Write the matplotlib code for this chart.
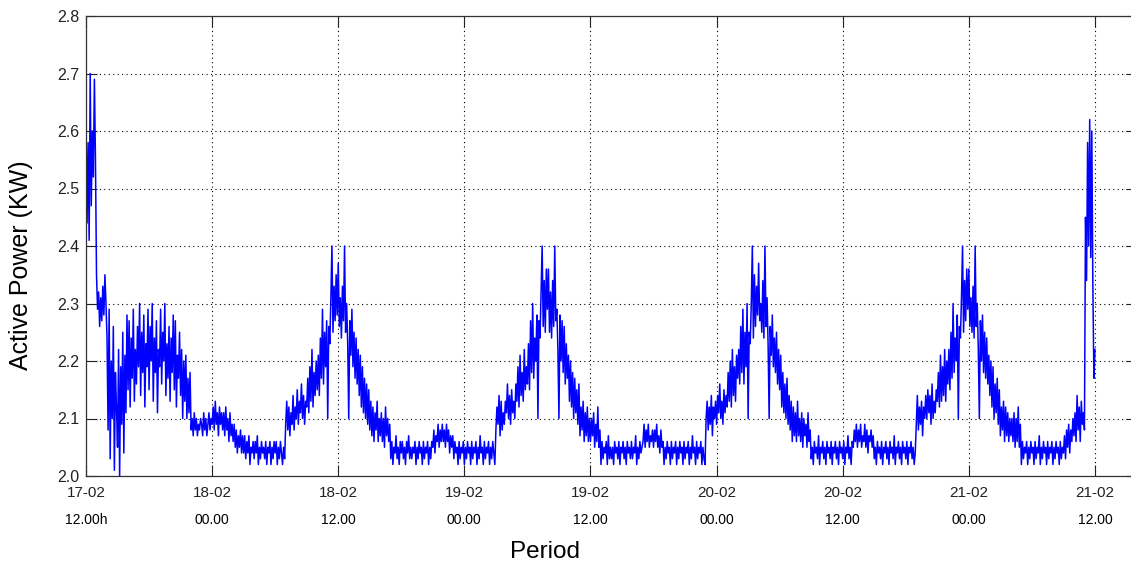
import numpy as np
import matplotlib.pyplot as plt

plt.rcParams['font.family'] = ['Liberation Sans', 'DejaVu Sans']

# active power in kW, 10 samples per hour (6 min), one row per hour from 17-02 12:00
power_kw = [
    2.62, 2.44, 2.58, 2.41, 2.70, 2.47, 2.60, 2.52, 2.69, 2.55,
    2.35, 2.29, 2.32, 2.26, 2.31, 2.27, 2.33, 2.28, 2.35, 2.30,
    2.24, 2.08, 2.29, 2.03, 2.20, 2.10, 2.26, 2.01, 2.18, 2.12,
    2.05, 2.22, 2.00, 2.19, 2.09, 2.25, 2.04, 2.21, 2.11, 2.28,
    2.15, 2.27, 2.12, 2.24, 2.17, 2.29, 2.13, 2.22, 2.16, 2.26,
    2.19, 2.30, 2.14, 2.25, 2.18, 2.28, 2.12, 2.23, 2.19, 2.29,
    2.15, 2.26, 2.20, 2.30, 2.13, 2.24, 2.18, 2.27, 2.11, 2.22,
    2.19, 2.29, 2.16, 2.25, 2.20, 2.30, 2.14, 2.23, 2.17, 2.26,
    2.13, 2.24, 2.18, 2.28, 2.15, 2.27, 2.12, 2.21, 2.17, 2.25,
    2.14, 2.22, 2.10, 2.20, 2.13, 2.21, 2.10, 2.17, 2.11, 2.18,
    2.08, 2.10, 2.07, 2.11, 2.08, 2.10, 2.07, 2.09, 2.08, 2.10,
    2.09, 2.07, 2.11, 2.08, 2.10, 2.07, 2.09, 2.11, 2.08, 2.10,
    2.09, 2.12, 2.08, 2.13, 2.09, 2.11, 2.07, 2.12, 2.09, 2.11,
    2.08, 2.11, 2.07, 2.12, 2.08, 2.10, 2.06, 2.11, 2.07, 2.09,
    2.06, 2.09, 2.05, 2.08, 2.04, 2.07, 2.05, 2.08, 2.04, 2.07,
    2.04, 2.07, 2.03, 2.06, 2.04, 2.07, 2.02, 2.05, 2.04, 2.06,
    2.03, 2.06, 2.04, 2.07, 2.02, 2.05, 2.03, 2.06, 2.04, 2.05,
    2.03, 2.06, 2.02, 2.05, 2.04, 2.06, 2.02, 2.05, 2.03, 2.06,
    2.04, 2.06, 2.02, 2.05, 2.03, 2.06, 2.04, 2.02, 2.05, 2.03,
    # 18-02
    2.09, 2.13, 2.08, 2.12, 2.07, 2.11, 2.09, 2.14, 2.08, 2.12,
    2.10, 2.15, 2.09, 2.13, 2.11, 2.16, 2.10, 2.14, 2.09, 2.13,
    2.12, 2.17, 2.11, 2.19, 2.13, 2.22, 2.12, 2.18, 2.14, 2.20,
    2.15, 2.21, 2.14, 2.24, 2.17, 2.29, 2.16, 2.25, 2.19, 2.27,
    2.10, 2.26, 2.23, 2.31, 2.40, 2.25, 2.33, 2.27, 2.35, 2.28,
    2.37, 2.26, 2.31, 2.24, 2.33, 2.27, 2.40, 2.25, 2.30, 2.23,
    2.10, 2.27, 2.21, 2.29, 2.19, 2.25, 2.17, 2.24, 2.16, 2.22,
    2.14, 2.21, 2.12, 2.19, 2.11, 2.17, 2.10, 2.16, 2.09, 2.15,
    2.08, 2.13, 2.07, 2.12, 2.06, 2.11, 2.08, 2.13, 2.06, 2.10,
    2.07, 2.11, 2.06, 2.10, 2.05, 2.12, 2.07, 2.10, 2.06, 2.09,
    2.03, 2.06, 2.02, 2.05, 2.04, 2.07, 2.03, 2.05, 2.02, 2.06,
    2.04, 2.06, 2.03, 2.05, 2.02, 2.06, 2.04, 2.07, 2.03, 2.05,
    2.03, 2.05, 2.04, 2.06, 2.02, 2.05, 2.03, 2.06, 2.04, 2.05,
    2.02, 2.06, 2.03, 2.05, 2.04, 2.06, 2.02, 2.05, 2.03, 2.06,
    2.05, 2.08, 2.04, 2.07, 2.06, 2.09, 2.05, 2.08, 2.06, 2.09,
    2.06, 2.08, 2.05, 2.09, 2.06, 2.08, 2.04, 2.07, 2.05, 2.07,
    2.03, 2.06, 2.04, 2.05, 2.02, 2.06, 2.03, 2.05, 2.04, 2.06,
    2.02, 2.05, 2.03, 2.06, 2.04, 2.05, 2.02, 2.06, 2.03, 2.05,
    2.04, 2.06, 2.02, 2.05, 2.03, 2.07, 2.04, 2.05, 2.02, 2.06,
    2.03, 2.05, 2.04, 2.06, 2.02, 2.05, 2.03, 2.06, 2.04, 2.02,
    # 19-02
    2.08, 2.12, 2.09, 2.14, 2.07, 2.13, 2.08, 2.11, 2.09, 2.13,
    2.11, 2.16, 2.10, 2.14, 2.09, 2.15, 2.11, 2.13, 2.10, 2.16,
    2.13, 2.19, 2.12, 2.21, 2.14, 2.18, 2.13, 2.22, 2.15, 2.19,
    2.16, 2.23, 2.15, 2.27, 2.18, 2.30, 2.17, 2.24, 2.20, 2.28,
    2.10, 2.27, 2.24, 2.32, 2.40, 2.26, 2.34, 2.25, 2.36, 2.29,
    2.36, 2.25, 2.32, 2.24, 2.34, 2.26, 2.40, 2.27, 2.29, 2.22,
    2.10, 2.28, 2.20, 2.27, 2.18, 2.26, 2.16, 2.23, 2.17, 2.21,
    2.13, 2.20, 2.12, 2.18, 2.10, 2.17, 2.11, 2.15, 2.09, 2.16,
    2.07, 2.12, 2.08, 2.13, 2.06, 2.11, 2.07, 2.12, 2.06, 2.10,
    2.06, 2.10, 2.07, 2.11, 2.05, 2.09, 2.06, 2.12, 2.05, 2.08,
    2.02, 2.06, 2.03, 2.05, 2.04, 2.06, 2.02, 2.07, 2.03, 2.05,
    2.03, 2.05, 2.02, 2.06, 2.04, 2.05, 2.03, 2.06, 2.02, 2.05,
    2.04, 2.06, 2.03, 2.05, 2.02, 2.06, 2.04, 2.05, 2.03, 2.06,
    2.03, 2.05, 2.04, 2.07, 2.02, 2.05, 2.03, 2.06, 2.04, 2.05,
    2.06, 2.09, 2.05, 2.08, 2.06, 2.09, 2.05, 2.07, 2.06, 2.08,
    2.05, 2.08, 2.06, 2.09, 2.05, 2.07, 2.04, 2.08, 2.05, 2.06,
    2.02, 2.05, 2.03, 2.06, 2.04, 2.05, 2.02, 2.06, 2.03, 2.05,
    2.04, 2.06, 2.02, 2.05, 2.03, 2.06, 2.04, 2.05, 2.02, 2.06,
    2.03, 2.05, 2.04, 2.06, 2.02, 2.05, 2.03, 2.07, 2.04, 2.05,
    2.02, 2.06, 2.03, 2.05, 2.04, 2.06, 2.02, 2.05, 2.03, 2.02,
    # 20-02
    2.10, 2.13, 2.08, 2.12, 2.09, 2.14, 2.07, 2.12, 2.10, 2.13,
    2.09, 2.14, 2.11, 2.16, 2.10, 2.13, 2.09, 2.15, 2.11, 2.14,
    2.12, 2.18, 2.13, 2.20, 2.12, 2.22, 2.14, 2.19, 2.13, 2.21,
    2.17, 2.22, 2.16, 2.26, 2.18, 2.29, 2.16, 2.25, 2.19, 2.30,
    2.10, 2.25, 2.23, 2.30, 2.40, 2.24, 2.35, 2.26, 2.33, 2.28,
    2.37, 2.27, 2.30, 2.25, 2.34, 2.24, 2.40, 2.26, 2.31, 2.23,
    2.10, 2.26, 2.21, 2.28, 2.19, 2.24, 2.18, 2.25, 2.16, 2.22,
    2.15, 2.21, 2.12, 2.18, 2.11, 2.16, 2.10, 2.17, 2.09, 2.14,
    2.08, 2.13, 2.06, 2.12, 2.07, 2.11, 2.06, 2.13, 2.07, 2.10,
    2.06, 2.11, 2.05, 2.10, 2.07, 2.09, 2.05, 2.11, 2.06, 2.08,
    2.03, 2.05, 2.02, 2.06, 2.04, 2.05, 2.03, 2.07, 2.02, 2.05,
    2.04, 2.06, 2.03, 2.05, 2.02, 2.06, 2.04, 2.05, 2.03, 2.06,
    2.02, 2.05, 2.04, 2.06, 2.03, 2.05, 2.02, 2.06, 2.04, 2.05,
    2.03, 2.06, 2.02, 2.05, 2.04, 2.07, 2.03, 2.05, 2.02, 2.06,
    2.05, 2.08, 2.06, 2.09, 2.05, 2.08, 2.06, 2.09, 2.05, 2.07,
    2.06, 2.09, 2.05, 2.08, 2.04, 2.07, 2.06, 2.08, 2.05, 2.07,
    2.03, 2.05, 2.02, 2.06, 2.04, 2.05, 2.03, 2.06, 2.02, 2.05,
    2.04, 2.06, 2.03, 2.05, 2.02, 2.06, 2.04, 2.05, 2.03, 2.07,
    2.02, 2.05, 2.04, 2.06, 2.03, 2.05, 2.02, 2.06, 2.04, 2.05,
    2.03, 2.06, 2.02, 2.05, 2.04, 2.06, 2.03, 2.05, 2.02, 2.04,
    # 21-02
    2.09, 2.14, 2.08, 2.12, 2.09, 2.13, 2.07, 2.12, 2.10, 2.14,
    2.10, 2.15, 2.11, 2.14, 2.09, 2.16, 2.10, 2.13, 2.11, 2.15,
    2.13, 2.18, 2.12, 2.21, 2.13, 2.19, 2.14, 2.22, 2.13, 2.20,
    2.16, 2.22, 2.15, 2.25, 2.17, 2.30, 2.18, 2.24, 2.20, 2.28,
    2.10, 2.26, 2.24, 2.31, 2.40, 2.25, 2.34, 2.27, 2.36, 2.29,
    2.36, 2.26, 2.31, 2.25, 2.33, 2.24, 2.40, 2.26, 2.30, 2.22,
    2.10, 2.27, 2.20, 2.28, 2.18, 2.25, 2.17, 2.24, 2.16, 2.21,
    2.14, 2.20, 2.12, 2.19, 2.10, 2.16, 2.11, 2.17, 2.09, 2.15,
    2.07, 2.12, 2.08, 2.13, 2.06, 2.12, 2.07, 2.11, 2.06, 2.10,
    2.07, 2.10, 2.06, 2.11, 2.05, 2.10, 2.06, 2.12, 2.05, 2.09,
    2.02, 2.06, 2.03, 2.05, 2.04, 2.06, 2.02, 2.05, 2.03, 2.06,
    2.04, 2.05, 2.02, 2.06, 2.03, 2.05, 2.04, 2.07, 2.02, 2.05,
    2.03, 2.06, 2.04, 2.05, 2.02, 2.06, 2.03, 2.05, 2.04, 2.06,
    2.02, 2.05, 2.03, 2.06, 2.04, 2.05, 2.02, 2.06, 2.03, 2.05,
    2.04, 2.07, 2.03, 2.08, 2.05, 2.09, 2.04, 2.08, 2.06, 2.10,
    2.07, 2.11, 2.06, 2.14, 2.08, 2.12, 2.06, 2.13, 2.09, 2.11,
    2.08, 2.45, 2.34, 2.58, 2.40, 2.62, 2.38, 2.60, 2.33, 2.17,
    2.22,
]

tick_hours = [0, 12, 24, 36, 48, 60, 72, 84, 96]
tick_dates = ['17-02', '18-02', '18-02', '19-02', '19-02',
              '20-02', '20-02', '21-02', '21-02']
tick_times = ['12.00h', '00.00', '12.00', '00.00', '12.00',
              '00.00', '12.00', '00.00', '12.00']

hours = np.arange(len(power_kw)) / 10.0

fig = plt.figure(figsize=(11.31, 5.65), dpi=100)
ax = fig.add_axes([86 / 1131, 89 / 565, 1051 / 1131, 460 / 565])

ax.plot(hours, power_kw, color='#0000ff', lw=1.1)

ax.set_xlim(0, 100)
ax.set_ylim(2.0, 2.8)
ax.set_yticks(np.arange(2.0, 2.81, 0.1))
ax.set_yticklabels(['%.1f' % v for v in np.arange(2.0, 2.81, 0.1)])
ax.set_xticks(tick_hours)
ax.set_xticklabels(tick_dates)

ax.tick_params(direction='in', length=8, width=0.8, top=True, right=True,
               labelsize=11, colors='#222222')
ax.tick_params(axis='y', labelsize=11.5, pad=5)
ax.tick_params(axis='x', pad=7)
for s in ax.spines.values():
    s.set_linewidth(0.9)
    s.set_color('#333333')

ax.grid(True, color='black', linestyle=(0, (1, 3)), linewidth=0.8)

# time of day under each date
for t, lab in zip(tick_hours, tick_times):
    ax.annotate(lab, xy=(t, 0), xycoords=('data', 'axes fraction'),
                xytext=(0, -44), textcoords='offset pixels',
                ha='center', va='center', fontsize=10)

fig.text(545 / 1131, 1 - 552 / 565, 'Period', ha='center', va='center',
         fontsize=17.5)
fig.text(21 / 1131, 1 - 265 / 565, 'Active Power (KW)', ha='center',
         va='center', rotation=90, fontsize=18)

fig.savefig('out.png', dpi=100)
